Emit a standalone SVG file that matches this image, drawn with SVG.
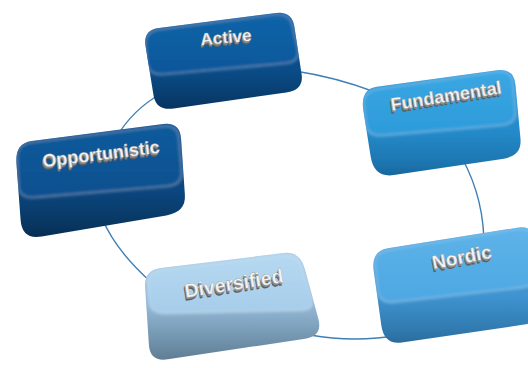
<svg xmlns="http://www.w3.org/2000/svg" width="528" height="368" viewBox="0 0 528 368">
<style>
.conn{fill:none;stroke:#3F7FB5;stroke-width:1.4}
.lbl{font-family:"Liberation Sans",Arial,sans-serif;font-weight:bold;text-anchor:middle}
.sh{fill:#5E5E5E}
.sh1{fill:#8A8A8A}
.fc{fill:#F4F4F4;stroke:#9C9C9C;stroke-width:0.35}
.top{stroke:#FFFFFF;stroke-opacity:0.22;stroke-width:2.2}
</style>
<defs>
<filter id="soft" x="-10%" y="-10%" width="120%" height="120%"><feGaussianBlur stdDeviation="1.6"/></filter>
<linearGradient id="aTop" x1="0" y1="0" x2="0" y2="1"><stop offset="0" stop-color="#1264A8"/><stop offset="1" stop-color="#0C5699"/></linearGradient>
<linearGradient id="aBody" x1="0" y1="0" x2="0" y2="1"><stop offset="0" stop-color="#0C5699"/><stop offset="0.6" stop-color="#0A4C88"/><stop offset="0.9" stop-color="#083B6B"/><stop offset="1" stop-color="#073360"/></linearGradient>
<linearGradient id="oTop" x1="0" y1="0" x2="0" y2="1"><stop offset="0" stop-color="#115B9C"/><stop offset="1" stop-color="#0D4F8E"/></linearGradient>
<linearGradient id="oBody" x1="0" y1="0" x2="0" y2="1"><stop offset="0" stop-color="#0D4F8E"/><stop offset="0.6" stop-color="#0B467E"/><stop offset="0.9" stop-color="#083660"/><stop offset="1" stop-color="#072D52"/></linearGradient>
<linearGradient id="fTop" x1="0" y1="0" x2="0" y2="1"><stop offset="0" stop-color="#3AA7E3"/><stop offset="1" stop-color="#2C9AD9"/></linearGradient>
<linearGradient id="fBody" x1="0" y1="0" x2="0" y2="1"><stop offset="0" stop-color="#2C9AD9"/><stop offset="0.6" stop-color="#2489C8"/><stop offset="0.9" stop-color="#1C74AE"/><stop offset="1" stop-color="#17669C"/></linearGradient>
<linearGradient id="nTop" x1="0" y1="0" x2="0" y2="1"><stop offset="0" stop-color="#5DB3E9"/><stop offset="1" stop-color="#4DA7E1"/></linearGradient>
<linearGradient id="nBody" x1="0" y1="0" x2="0" y2="1"><stop offset="0" stop-color="#4DA7E1"/><stop offset="0.6" stop-color="#3E93D0"/><stop offset="0.9" stop-color="#3079AE"/><stop offset="1" stop-color="#2A6C9C"/></linearGradient>
<linearGradient id="dTop" x1="0" y1="0" x2="0" y2="1"><stop offset="0" stop-color="#B6D9F2"/><stop offset="1" stop-color="#A6CCE9"/></linearGradient>
<linearGradient id="dBody" x1="0" y1="0" x2="0" y2="1"><stop offset="0" stop-color="#A6CCE9"/><stop offset="0.55" stop-color="#8DB2CF"/><stop offset="0.85" stop-color="#6E8FA8"/><stop offset="1" stop-color="#5F7E95"/></linearGradient>
<clipPath id="aClip"><path d="M158.9,28 L276.1,13 Q292,11 294.4,26.8 L301.6,74.2 Q304,90 286.2,92.5 L173.8,108.5 Q156,111 153.5,95.2 L145.5,45.8 Q143,30 158.9,28 Z"/></clipPath>
<clipPath id="fClip"><path d="M376.8,86.7 L497.2,70.3 Q514,68 515.5,84.9 L520.5,139.1 Q522,156 502.2,158.9 L393.8,175.1 Q374,178 370.6,156.3 L363.4,110.7 Q360,89 376.8,86.7 Z"/></clipPath>
<clipPath id="nClip"><path d="M387.8,248.3 L517.2,227.7 Q534,225 535.4,241.9 L540.6,305.1 Q542,322 524.2,324.6 L401.8,342.4 Q384,345 381.3,325.2 L373.7,270.8 Q371,251 387.8,248.3 Z"/></clipPath>
<clipPath id="dClip"><path d="M160.9,267.9 L283.1,253.1 Q300,251 304.7,268.4 L318.3,318.6 Q323,336 305.2,338.7 L167.8,359.3 Q150,362 148.9,345 L145.1,287 Q144,270 160.9,267.9 Z"/></clipPath>
<clipPath id="oClip"><path d="M31.9,140.9 L163.1,124.1 Q180,122 181.1,139 L184.9,195 Q186,212 166.3,215.4 L41.7,236.6 Q22,240 20.6,220.1 L16.4,162.9 Q15,143 31.9,140.9 Z"/></clipPath>
</defs>
<rect width="528" height="368" fill="#FFFFFF"/>
<g id="connectors">
<path class="conn" d="M295,71 Q335,77 375,92"/>
<path class="conn" d="M462,158 Q485,200 484,250"/>
<path class="conn" d="M400,335 Q355,343 310,335"/>
<path class="conn" d="M152,283 Q115,250 102,218"/>
<path class="conn" d="M116,138 Q132,110 162,93"/>
</g>
<g id="node-active">
<path fill="url(#aBody)" d="M158.9,28 L276.1,13 Q292,11 294.4,26.8 L301.6,74.2 Q304,90 286.2,92.5 L173.8,108.5 Q156,111 153.5,95.2 L145.5,45.8 Q143,30 158.9,28 Z"/>
<g clip-path="url(#aClip)"><path class="top" fill="url(#aTop)" filter="url(#soft)" d="M159.9,28.9 L274.1,14.1 Q290,12 293,25.7 L298,48.3 Q301,62 285.1,63.5 L163.9,74.5 Q148,76 146.8,62.1 L145.2,44.9 Q144,31 159.9,28.9 Z"/></g>
<g class="lbl" font-size="17" transform="translate(226,37) rotate(-5)">
<text class="sh" x="-1.7" y="9">Active</text>
<text class="sh1" x="-1" y="7.7">Active</text>
<text class="fc" x="0" y="6">Active</text>
</g>
</g>
<g id="node-fundamental">
<path fill="url(#fBody)" d="M376.8,86.7 L497.2,70.3 Q514,68 515.5,84.9 L520.5,139.1 Q522,156 502.2,158.9 L393.8,175.1 Q374,178 370.6,156.3 L363.4,110.7 Q360,89 376.8,86.7 Z"/>
<g clip-path="url(#fClip)"><path class="top" fill="url(#fTop)" filter="url(#soft)" d="M377.8,88.7 L496.2,71.3 Q512,69 513.3,82.9 L515.7,110.1 Q517,124 501.1,125.4 L382.9,135.6 Q367,137 365.5,123.1 L363.5,104.9 Q362,91 377.8,88.7 Z"/></g>
<g class="lbl" font-size="18" transform="translate(446,96) rotate(-9)">
<text class="sh" x="-1.7" y="9">Fundamental</text>
<text class="sh1" x="-1" y="7.7">Fundamental</text>
<text class="fc" x="0" y="6">Fundamental</text>
</g>
</g>
<g id="node-nordic">
<path fill="url(#nBody)" d="M387.8,248.3 L517.2,227.7 Q534,225 535.4,241.9 L540.6,305.1 Q542,322 524.2,324.6 L401.8,342.4 Q384,345 381.3,325.2 L373.7,270.8 Q371,251 387.8,248.3 Z"/>
<g clip-path="url(#nClip)"><path class="top" fill="url(#nTop)" filter="url(#soft)" d="M388.8,249.4 L516.2,228.6 Q532,226 533.2,240 L535.8,272 Q537,286 521.1,287.8 L394.9,302.2 Q379,304 377.4,290.1 L374.6,265.9 Q373,252 388.8,249.4 Z"/></g>
<g class="lbl" font-size="19" transform="translate(462,257.5) rotate(-11)">
<text class="sh" x="-1.7" y="9">Nordic</text>
<text class="sh1" x="-1" y="7.7">Nordic</text>
<text class="fc" x="0" y="6">Nordic</text>
</g>
</g>
<g id="node-diversified">
<path fill="url(#dBody)" d="M160.9,267.9 L283.1,253.1 Q300,251 304.7,268.4 L318.3,318.6 Q323,336 305.2,338.7 L167.8,359.3 Q150,362 148.9,345 L145.1,287 Q144,270 160.9,267.9 Z"/>
<g clip-path="url(#dClip)"><path class="top" fill="url(#dTop)" filter="url(#soft)" d="M161.9,269.1 L282.1,254.9 Q298,253 302.2,266.3 L311.8,296.7 Q316,310 300,310.4 L166,313.6 Q150,314 148.7,300.1 L147.3,284.9 Q146,271 161.9,269.1 Z"/></g>
<g class="lbl" font-size="19.5" transform="translate(234,284) rotate(-9)">
<text class="sh" x="-1.7" y="9">Diversified</text>
<text class="sh1" x="-1" y="7.7">Diversified</text>
<text class="fc" x="0" y="6">Diversified</text>
</g>
</g>
<g id="node-opportunistic">
<path fill="url(#oBody)" d="M31.9,140.9 L163.1,124.1 Q180,122 181.1,139 L184.9,195 Q186,212 166.3,215.4 L41.7,236.6 Q22,240 20.6,220.1 L16.4,162.9 Q15,143 31.9,140.9 Z"/>
<g clip-path="url(#oClip)"><path class="top" fill="url(#oTop)" filter="url(#soft)" d="M31.9,142 L162.1,126 Q178,124 179.1,138 L181.9,171 Q183,185 167.1,186.4 L34.9,197.6 Q19,199 18.2,185 L16.8,158 Q16,144 31.9,142 Z"/></g>
<g class="lbl" font-size="18" transform="translate(101,154) rotate(-7)">
<text class="sh" x="-1.7" y="9">Opportunistic</text>
<text class="sh1" x="-1" y="7.7">Opportunistic</text>
<text class="fc" x="0" y="6">Opportunistic</text>
</g>
</g>
</svg>
